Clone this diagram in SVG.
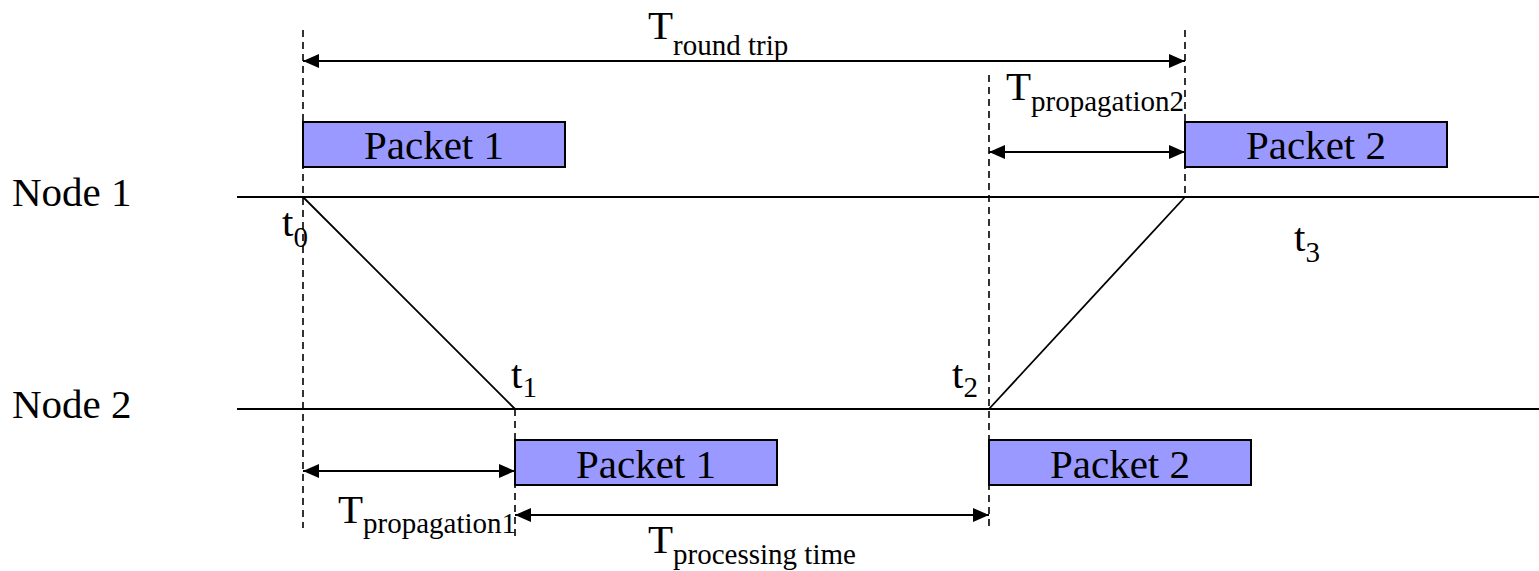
<svg xmlns="http://www.w3.org/2000/svg" width="1539" height="571" viewBox="0 0 1539 571">
  <style>
    text { font-family: "Liberation Serif", "Times New Roman", serif; fill: #000; }
    .lbl { font-size: 41px; }
    .sub { font-size: 29px; }
    .timeline { stroke: #000; stroke-width: 2; fill: none; }
    .packet { fill: #9999FF; stroke: #000; stroke-width: 2; }
    .dash { stroke: #000; stroke-width: 1.6; stroke-dasharray: 7 5; fill: none; }
    .diag { stroke: #000; stroke-width: 1.8; fill: none; }
    .dim { stroke: #000; stroke-width: 2; fill: none; marker-start: url(#ah-start); marker-end: url(#ah-end); }
  </style>
  <defs>
    <marker id="ah-end" markerUnits="userSpaceOnUse" markerWidth="17" markerHeight="16" refX="16" refY="7" orient="auto">
      <path d="M0,0 L16,7 L0,14 Z" fill="#000"/>
    </marker>
    <marker id="ah-start" markerUnits="userSpaceOnUse" markerWidth="17" markerHeight="16" refX="0" refY="7" orient="auto">
      <path d="M16,0 L0,7 L16,14 Z" fill="#000"/>
    </marker>
  </defs>
  <rect width="1539" height="571" fill="#fff"/>

  <g id="connectors">
    <line class="dash" x1="303" y1="30" x2="303" y2="528"/>
    <line class="dash" x1="515" y1="409" x2="515" y2="538"/>
    <line class="dash" x1="989" y1="75" x2="989" y2="531"/>
    <line class="dash" x1="1185" y1="30" x2="1185" y2="197"/>
    <line class="diag" x1="303" y1="197" x2="515" y2="409"/>
    <line class="diag" x1="989" y1="409" x2="1185" y2="197"/>
    <line class="dim" x1="303" y1="61" x2="1185" y2="61"/>
    <line class="dim" x1="989" y1="152" x2="1185" y2="152"/>
    <line class="dim" x1="303" y1="471" x2="515" y2="471"/>
    <line class="dim" x1="515" y1="515" x2="989" y2="515"/>
  </g>

  <g id="node1">
    <line class="timeline" x1="237" y1="197" x2="1539" y2="197"/>
    <text class="lbl" x="12" y="206">Node 1</text>
  </g>
  <g id="node2">
    <line class="timeline" x1="237" y1="409" x2="1539" y2="409"/>
    <text class="lbl" x="12" y="418">Node 2</text>
  </g>

  <g id="packet1-node1">
    <rect class="packet" x="303" y="122" width="262" height="45"/>
    <text class="lbl" x="434" y="159" text-anchor="middle">Packet 1</text>
  </g>
  <g id="packet2-node1">
    <rect class="packet" x="1185" y="122" width="262" height="45"/>
    <text class="lbl" x="1316" y="159" text-anchor="middle">Packet 2</text>
  </g>
  <g id="packet1-node2">
    <rect class="packet" x="515" y="440" width="262" height="45"/>
    <text class="lbl" x="646" y="478" text-anchor="middle">Packet 1</text>
  </g>
  <g id="packet2-node2">
    <rect class="packet" x="989" y="440" width="262" height="45"/>
    <text class="lbl" x="1120" y="478" text-anchor="middle">Packet 2</text>
  </g>

  <g id="time-labels">
    <text class="lbl" x="282" y="236">t<tspan class="sub" dy="11">0</tspan></text>
    <text class="lbl" x="511" y="388">t<tspan class="sub" dy="9">1</tspan></text>
    <text class="lbl" x="952" y="388">t<tspan class="sub" dy="9">2</tspan></text>
    <text class="lbl" x="1294" y="251">t<tspan class="sub" dy="11">3</tspan></text>
  </g>

  <g id="duration-labels">
    <text class="lbl" x="648" y="39">T<tspan class="sub" dy="16">round trip</tspan></text>
    <text class="lbl" x="1006" y="100">T<tspan class="sub" dy="11">propagation2</tspan></text>
    <text class="lbl" x="338" y="523">T<tspan class="sub" dy="10">propagation1</tspan></text>
    <text class="lbl" x="648" y="553">T<tspan class="sub" dy="11">processing time</tspan></text>
  </g>
</svg>
